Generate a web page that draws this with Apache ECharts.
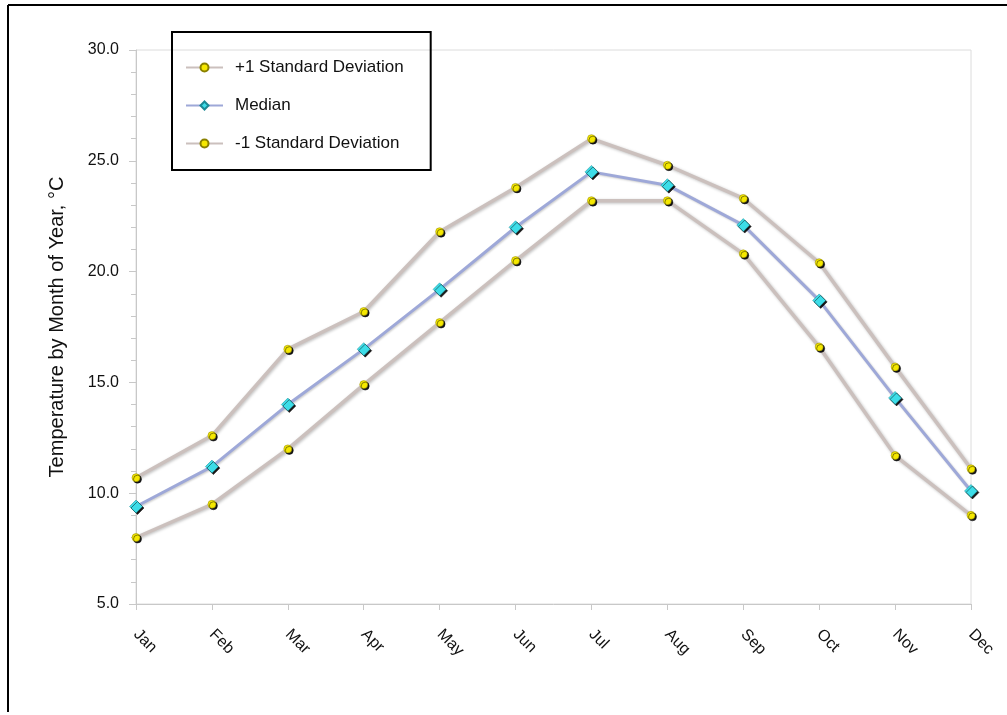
<!DOCTYPE html>
<html>
<head>
<meta charset="utf-8">
<script src="https://cdn.jsdelivr.net/npm/echarts@6/dist/echarts.min.js"></script>
<style>
html,body{margin:0;padding:0;background:#fff;}
#main{width:1007px;height:715px;}
</style>
</head>
<body>
<div id="main"></div>
<script>
var months = ['Jan','Feb','Mar','Apr','May','Jun','Jul','Aug','Sep','Oct','Nov','Dec'];
var plusSD = [10.7, 12.6, 16.5, 18.2, 21.8, 23.8, 26.0, 24.8, 23.3, 20.4, 15.7, 11.1];
var median = [9.4, 11.2, 14.0, 16.5, 19.2, 22.0, 24.5, 23.9, 22.1, 18.7, 14.3, 10.1];
var minusSD = [8.0, 9.5, 12.0, 14.9, 17.7, 20.5, 23.2, 23.2, 20.8, 16.6, 11.7, 9.0];
var seriesNames = ['+1 Standard Deviation', 'Median', '-1 Standard Deviation'];
var yTitle = 'Temperature by Month of Year, °C';

var chart = echarts.init(document.getElementById('main'), null, {renderer:'canvas'});
var font = 'Liberation Sans, Arial, sans-serif';

function sdSeries(name, data){
  return {
    name: name, type: 'line', data: data,
    symbol: 'circle', symbolSize: 8,
    lineStyle: {color: '#cbc0bd', width: 3.5, shadowColor: 'rgba(0,0,0,0.25)', shadowBlur: 3, shadowOffsetX: 1, shadowOffsetY: 1},
    itemStyle: {color: '#f5e800', borderColor: '#8a8000', borderWidth: 0.5, shadowColor: 'rgba(0,0,0,0.9)', shadowBlur: 0, shadowOffsetX: 1.5, shadowOffsetY: 1.5},
    emphasis: {disabled: true}, z: 2
  };
}

var option = {
  animation: false,
  backgroundColor: '#fff',
  grid: {left: 136, right: 36, top: 50, bottom: 111, show: true, borderColor: '#dcdcdc', borderWidth: 1},
  legend: {
    orient: 'vertical', left: 172, top: 32,
    padding: [27, 27, 18, 13],
    itemGap: 21, itemWidth: 37, itemHeight: 10,
    borderColor: '#000', borderWidth: 2,
    textStyle: {fontFamily: font, fontSize: 17, color: '#111', padding: [0,0,0,7]},
    data: seriesNames
  },
  xAxis: {
    type: 'category', data: months, boundaryGap: false,
    axisLine: {lineStyle: {color: '#c8c8c8', width: 1}},
    axisTick: {show: true, length: 6, alignWithLabel: true, lineStyle: {color: '#c8c8c8'}},
    axisLabel: {rotate: -45, margin: 28, fontFamily: font, fontSize: 16, color: '#111', interval: 0},
    splitLine: {show: false}
  },
  yAxis: {
    type: 'value', min: 5, max: 30, interval: 5,
    name: yTitle, nameLocation: 'middle', nameGap: 69, nameRotate: 90,
    nameTextStyle: {fontFamily: font, fontSize: 20, color: '#111'},
    axisLine: {show: true, lineStyle: {color: '#c8c8c8'}},
    axisTick: {show: true, length: 7, lineStyle: {color: '#c8c8c8'}},
    minorTick: {show: true, splitNumber: 5, length: 5, lineStyle: {color: '#c8c8c8'}},
    axisLabel: {fontFamily: font, fontSize: 16, color: '#111', margin: 17, formatter: function(v){return v.toFixed(1);}},
    splitLine: {show: false}
  },
  series: [
    sdSeries(seriesNames[0], plusSD),
    {
      name: seriesNames[1], type: 'line', data: median,
      symbol: 'diamond', symbolSize: 13,
      lineStyle: {color: '#9ea8d8', width: 3, shadowColor: 'rgba(0,0,0,0.2)', shadowBlur: 2, shadowOffsetX: 1, shadowOffsetY: 1},
      itemStyle: {color: '#3ddde8', borderColor: '#1a8a95', borderWidth: 0.5, shadowColor: 'rgba(0,0,0,0.9)', shadowBlur: 0, shadowOffsetX: 1.5, shadowOffsetY: 1.5},
      emphasis: {disabled: true}, z: 3
    },
    sdSeries(seriesNames[2], minusSD)
  ],
  graphic: [
    {type: 'line', shape: {x1: 8, y1: 5, x2: 1007, y2: 5}, style: {stroke: '#000', lineWidth: 2}, silent: true},
    {type: 'line', shape: {x1: 8, y1: 5, x2: 8, y2: 712}, style: {stroke: '#000', lineWidth: 2}, silent: true}
  ]
};
chart.setOption(option);
</script>
</body>
</html>
